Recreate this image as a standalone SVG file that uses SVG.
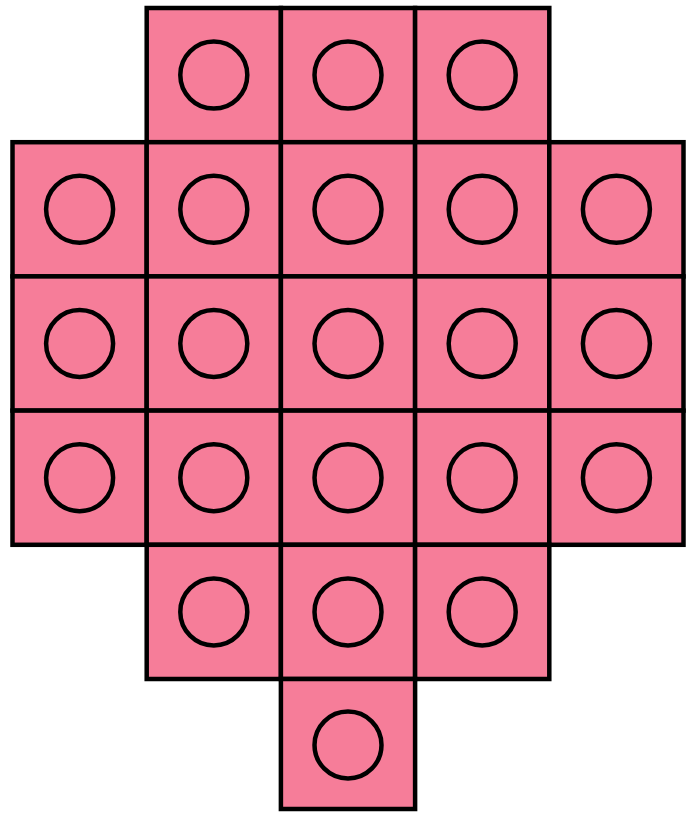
<svg xmlns="http://www.w3.org/2000/svg" width="692" height="813" viewBox="0 0 692 813">
<style>
.cell rect{fill:#F67D99;stroke:#000;stroke-width:4.5}
.cell circle{fill:none;stroke:#000;stroke-width:4.5}
</style>
<rect width="692" height="813" fill="#fff"/>
<g id="r0c1" class="cell"><rect x="146.7" y="8" width="134.2" height="134.2"/><circle cx="213.8" cy="75.1" r="33.5"/></g>
<g id="r0c2" class="cell"><rect x="280.9" y="8" width="134.2" height="134.2"/><circle cx="348" cy="75.1" r="33.5"/></g>
<g id="r0c3" class="cell"><rect x="415.1" y="8" width="134.2" height="134.2"/><circle cx="482.2" cy="75.1" r="33.5"/></g>

<g id="r1c0" class="cell"><rect x="12.5" y="142.2" width="134.2" height="134.2"/><circle cx="79.6" cy="209.3" r="33.5"/></g>
<g id="r1c1" class="cell"><rect x="146.7" y="142.2" width="134.2" height="134.2"/><circle cx="213.8" cy="209.3" r="33.5"/></g>
<g id="r1c2" class="cell"><rect x="280.9" y="142.2" width="134.2" height="134.2"/><circle cx="348" cy="209.3" r="33.5"/></g>
<g id="r1c3" class="cell"><rect x="415.1" y="142.2" width="134.2" height="134.2"/><circle cx="482.2" cy="209.3" r="33.5"/></g>
<g id="r1c4" class="cell"><rect x="549.3" y="142.2" width="134.2" height="134.2"/><circle cx="616.4" cy="209.3" r="33.5"/></g>

<g id="r2c0" class="cell"><rect x="12.5" y="276.4" width="134.2" height="134.2"/><circle cx="79.6" cy="343.5" r="33.5"/></g>
<g id="r2c1" class="cell"><rect x="146.7" y="276.4" width="134.2" height="134.2"/><circle cx="213.8" cy="343.5" r="33.5"/></g>
<g id="r2c2" class="cell"><rect x="280.9" y="276.4" width="134.2" height="134.2"/><circle cx="348" cy="343.5" r="33.5"/></g>
<g id="r2c3" class="cell"><rect x="415.1" y="276.4" width="134.2" height="134.2"/><circle cx="482.2" cy="343.5" r="33.5"/></g>
<g id="r2c4" class="cell"><rect x="549.3" y="276.4" width="134.2" height="134.2"/><circle cx="616.4" cy="343.5" r="33.5"/></g>

<g id="r3c0" class="cell"><rect x="12.5" y="410.6" width="134.2" height="134.2"/><circle cx="79.6" cy="477.7" r="33.5"/></g>
<g id="r3c1" class="cell"><rect x="146.7" y="410.6" width="134.2" height="134.2"/><circle cx="213.8" cy="477.7" r="33.5"/></g>
<g id="r3c2" class="cell"><rect x="280.9" y="410.6" width="134.2" height="134.2"/><circle cx="348" cy="477.7" r="33.5"/></g>
<g id="r3c3" class="cell"><rect x="415.1" y="410.6" width="134.2" height="134.2"/><circle cx="482.2" cy="477.7" r="33.5"/></g>
<g id="r3c4" class="cell"><rect x="549.3" y="410.6" width="134.2" height="134.2"/><circle cx="616.4" cy="477.7" r="33.5"/></g>

<g id="r4c1" class="cell"><rect x="146.7" y="544.8" width="134.2" height="134.2"/><circle cx="213.8" cy="611.9" r="33.5"/></g>
<g id="r4c2" class="cell"><rect x="280.9" y="544.8" width="134.2" height="134.2"/><circle cx="348" cy="611.9" r="33.5"/></g>
<g id="r4c3" class="cell"><rect x="415.1" y="544.8" width="134.2" height="134.2"/><circle cx="482.2" cy="611.9" r="33.5"/></g>

<g id="r5c2" class="cell"><rect x="280.9" y="679" width="134.2" height="130"/><circle cx="348" cy="745" r="33.5"/></g>
<g id="connectors"/>
</svg>
